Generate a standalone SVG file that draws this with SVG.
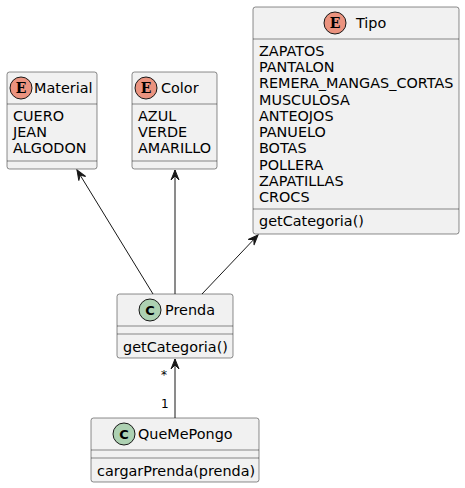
<svg xmlns="http://www.w3.org/2000/svg" width="465" height="488" viewBox="0 0 465 488">
<style>
.box{fill:#F1F1F1;stroke:#181818;stroke-width:0.5}
.sep{stroke:#181818;stroke-width:0.5}
.t{font-family:"DejaVu Sans",sans-serif;font-size:14.4px;fill:#000}
.lbl{font-family:"DejaVu Sans",sans-serif;font-size:12px;fill:#000}
.ce{fill:#EB937F;stroke:#181818;stroke-width:1}
.cc{fill:#ADD1B2;stroke:#181818;stroke-width:1}
.ic{font-family:"DejaVu Serif","Liberation Serif",serif;font-weight:bold;font-size:14px;fill:#000;text-anchor:middle}
.icc{font-family:"DejaVu Sans",sans-serif;font-weight:bold;font-size:13px;fill:#000;text-anchor:middle}
.ln{stroke:#181818;stroke-width:1;fill:none}
</style>
<defs>
<marker id="arr" viewBox="0 0 12 12" refX="11" refY="6" markerWidth="12" markerHeight="12" markerUnits="userSpaceOnUse" orient="auto">
<path d="M1,2 L11,6 L1,10 L5,6 Z" fill="#181818" stroke="#181818" stroke-width="1" stroke-linejoin="miter"/>
</marker>
</defs>
<g id="connectors">
<line class="ln" x1="153" y1="294" x2="77" y2="170" marker-end="url(#arr)"/>
<line class="ln" x1="175" y1="294" x2="175" y2="170" marker-end="url(#arr)"/>
<line class="ln" x1="202" y1="294" x2="258" y2="235" marker-end="url(#arr)"/>
<line class="ln" x1="175" y1="418" x2="175" y2="359" marker-end="url(#arr)"/>
<text class="lbl" x="161" y="379">*</text>
<text class="lbl" x="161" y="408">1</text>
</g>
<g id="Material">
<rect class="box" x="7" y="72" width="90" height="97" rx="2.5"/>
<circle class="ce" cx="21" cy="88" r="11"/>
<text class="ic" x="21" y="93">E</text>
<text class="t" x="34" y="93">Material</text>
<line class="sep" x1="7" y1="104" x2="97" y2="104"/>
<text class="t" x="13" y="121">CUERO</text>
<text class="t" x="13" y="137">JEAN</text>
<text class="t" x="13" y="153">ALGODON</text>
<line class="sep" x1="7" y1="161" x2="97" y2="161"/>
</g>
<g id="Color">
<rect class="box" x="132" y="72" width="85" height="97" rx="2.5"/>
<circle class="ce" cx="146" cy="88" r="11"/>
<text class="ic" x="146" y="93">E</text>
<text class="t" x="161" y="93">Color</text>
<line class="sep" x1="132" y1="104" x2="217" y2="104"/>
<text class="t" x="138" y="121">AZUL</text>
<text class="t" x="138" y="137">VERDE</text>
<text class="t" x="138" y="153">AMARILLO</text>
<line class="sep" x1="132" y1="161" x2="217" y2="161"/>
</g>
<g id="Tipo">
<rect class="box" x="253" y="7" width="206" height="227" rx="2.5"/>
<circle class="ce" cx="335" cy="23" r="11"/>
<text class="ic" x="335" y="28">E</text>
<text class="t" x="356" y="28">Tipo</text>
<line class="sep" x1="253" y1="39" x2="459" y2="39"/>
<text class="t" x="259" y="56">ZAPATOS</text>
<text class="t" x="259" y="72">PANTALON</text>
<text class="t" x="259" y="88">REMERA_MANGAS_CORTAS</text>
<text class="t" x="259" y="105">MUSCULOSA</text>
<text class="t" x="259" y="121">ANTEOJOS</text>
<text class="t" x="259" y="137">PANUELO</text>
<text class="t" x="259" y="153">BOTAS</text>
<text class="t" x="259" y="170">POLLERA</text>
<text class="t" x="259" y="186">ZAPATILLAS</text>
<text class="t" x="259" y="202">CROCS</text>
<line class="sep" x1="253" y1="209" x2="459" y2="209"/>
<text class="t" x="259" y="226">getCategoria()</text>
</g>
<g id="Prenda">
<rect class="box" x="117" y="294" width="116" height="64" rx="2.5"/>
<circle class="cc" cx="150" cy="310" r="11"/>
<text class="icc" x="150" y="315">C</text>
<text class="t" x="165" y="315">Prenda</text>
<line class="sep" x1="117" y1="326" x2="233" y2="326"/>
<line class="sep" x1="117" y1="334" x2="233" y2="334"/>
<text class="t" x="123" y="352">getCategoria()</text>
</g>
<g id="QueMePongo">
<rect class="box" x="91" y="418" width="168" height="64" rx="2.5"/>
<circle class="cc" cx="124" cy="434" r="11"/>
<text class="icc" x="124" y="439">C</text>
<text class="t" x="138" y="439">QueMePongo</text>
<line class="sep" x1="91" y1="450" x2="259" y2="450"/>
<line class="sep" x1="91" y1="458" x2="259" y2="458"/>
<text class="t" x="97" y="476">cargarPrenda(prenda)</text>
</g>
</svg>
